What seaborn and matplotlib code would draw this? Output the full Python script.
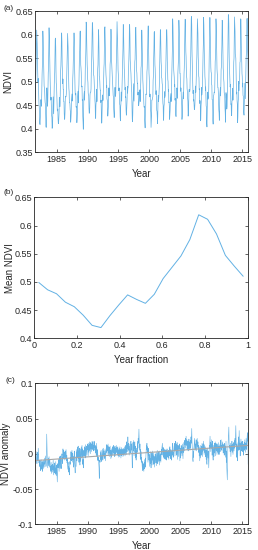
import numpy as np
import pandas as pd
import seaborn as sns
import matplotlib
matplotlib.use("Agg")
import matplotlib.pyplot as plt
from matplotlib.ticker import FuncFormatter

# ── Data ─────────────────────────────────────────────
# mean NDVI for each of the 24 half-month periods of the year (panel b)
year_fraction = [(k + 0.5) / 24 for k in range(24)]
mean_ndvi = [0.499, 0.486, 0.479, 0.464, 0.456, 0.441, 0.423, 0.419,
             0.440, 0.459, 0.477, 0.469, 0.462, 0.478, 0.506, 0.526,
             0.546, 0.575, 0.619, 0.611, 0.585, 0.547, 0.528, 0.510]

# NDVI anomaly (x1000), 24 half-month values per year
anom_1981 = [-2, -8, -12, -5, 3, -6, -9, -14, -4, 2, -7, -10]   # Jul-Dec only
anom_rows = {
    1982: [8, 2, -6, -13, -9, -18, -12, -10, -20, -24, -15, -8, -14, -22, -18, -11, -16, -25, -11, -17, -21, -9, -14, -19],
    1983: [-12, -6, -15, -9, -3, -11, -18, -16, -7, 28, 10, -5, -14, -20, -12, -6, -17, -10, -4, -13, -19, -8, -15, -22],
    1984: [-18, -25, -12, -20, -28, -16, -22, -15, -26, -19, -9, -21, -30, -17, -24, -13, -27, -20, -29, -18, -11, -23, -31, -16],
    1985: [-22, -33, -40, -26, -14, -20, -12, -8, -18, -25, -10, -4, -15, -21, -9, -3, -12, -19, -21, -7, 0, -11, -5, -14],
    1986: [7, -2, 5, -6, 2, -9, -3, 3, -5, 4, -8, -1, 6, -4, -10, -2, -13, -7, -16, -22, -12, -26, -18, -24],
    1987: [-20, -30, -23, -11, -15, -5, -9, 3, -6, 2, -10, 5, -3, -12, 1, -8, -4, -14, -19, -7, 4, -9, -16, -27],
    1988: [-27, -13, -4, -18, -8, 6, -10, 3, -5, 9, -2, 11, -7, 4, -12, 1, 8, -9, -16, -3, 7, -11, 2, 10],
    1989: [-6, 3, 12, -4, 7, -15, -8, -20, -11, 5, -3, 10, -1, 8, -6, 13, 2, -5, 8, 11, 4, -2, 9, 14],
    1990: [6, 12, -3, 8, 15, 2, 10, 17, 5, 13, 0, 9, 16, 7, 14, 3, 11, 18, 6, 15, 17, 8, 12, 4],
    1991: [14, 18, 9, 16, 5, 12, 1, 3, 10, -2, 7, 15, -4, 6, -8, 2, -10, -5, -8, -14, -20, -35, -18, -9],
    1992: [-12, -4, 3, -8, 5, -2, -11, -6, 2, 7, -5, -9, 1, 8, -3, 4, -7, 0, -5, 6, -1, -10, 3, 5],
    1993: [8, 2, 13, -1, 6, 12, 4, 14, 7, -3, 10, 1, 9, -4, 3, 11, -2, 5, -7, 0, 6, -5, 2, 8],
    1994: [3, 10, -2, 7, 12, 1, 9, 5, -4, 6, 11, 0, 8, -3, 5, 12, 2, 7, 9, -1, 4, 10, -3, 6],
    1995: [0, -5, 8, 2, -4, 10, 3, -2, 6, -6, 1, 9, -3, 4, 7, -1, 5, -4, 3, 8, -2, 6, 0, 10],
    1996: [4, -3, 9, 2, 12, -1, 6, 17, 8, 3, 13, 7, 24, 10, 15, 5, 11, -2, 3, 9, 14, 1, 7, 16],
    1997: [18, 12, 5, 14, -6, -20, -8, 10, 16, 4, 19, 9, -3, 13, 7, 17, 2, 11, -6, 5, -9, 3, -4, 8],
    1998: [2, 10, 18, 8, 22, 15, 26, 35, 20, 12, 5, 14, -4, 6, -8, 3, -12, -5, -9, -15, -20, -11, -24, -16],
    1999: [-22, -14, -25, -18, -8, -21, -12, -17, -6, -19, -3, 4, 12, 6, 15, 2, 10, -4, -12, 8, -2, 5, -9, -1],
    2000: [-10, -18, -5, 3, -14, -7, -20, -1, -12, 2, -16, -6, 4, -9, -3, -15, 1, -8, -14, -4, -19, -11, 0, -7],
    2001: [-5, -13, 2, -9, -17, -3, 5, -8, -14, 1, -6, -11, 3, -2, -16, -7, 4, -10, -9, 0, -12, -4, 6, -1],
    2002: [8, 11, 15, 4, -2, 9, -5, 3, 7, -7, 2, -3, 6, -8, 1, -4, 5, -6, -9, 0, 7, -2, 3, -5],
    2003: [2, -6, 5, -8, 1, 7, -3, 10, -1, 4, -7, 6, -4, 3, -9, 0, 5, -2, 15, 8, -5, 2, -3, 6],
    2004: [11, 4, 15, -3, 9, 18, 6, 7, 13, -2, 10, 16, 3, -8, 12, 5, -4, 9, 12, 7, 14, 1, -10, 8],
    2005: [3, -6, 8, 12, 1, 10, -3, 7, 14, 5, -7, 9, 2, 16, 11, 4, 19, 13, 14, 22, 8, 17, 25, 15],
    2006: [12, 20, 6, 16, 9, 18, 4, 14, 10, 21, 7, 13, 17, 5, 11, 19, 8, 24, 15, 28, 36, 18, 9, -2],
    2007: [-8, -11, 3, -5, 6, 12, 18, 22, 10, 5, 14, 8, 16, 20, 11, 4, 13, 22, 15, 9, 17, 6, 12, 2],
    2008: [10, -3, 6, -10, 4, 12, -6, 1, 8, -2, 11, 3, 15, 7, -4, 9, 14, 5, 18, 10, -1, 6, 13, 2],
    2009: [5, -4, 10, 2, -8, 6, -12, -15, -3, 8, 1, -6, 4, -10, -20, -5, 12, 7, 18, 25, 9, 16, 3, 11],
    2010: [20, 8, 14, -2, 6, 18, -5, -9, 3, 12, -4, 9, 15, 1, 10, 17, 6, -3, 15, 11, 4, 13, -1, 8],
    2011: [14, 2, 9, 16, 5, -1, 11, -1, 7, 13, 3, 19, 8, 15, 20, 6, 12, 4, 12, 17, 9, 14, 1, 10],
    2012: [6, 13, -2, 9, 15, 3, 11, -5, 8, 18, -12, 4, -20, -30, -37, -15, 7, 14, 24, 30, 38, 16, 8, 12],
    2013: [10, 3, 15, 7, -4, 12, 5, 10, 18, 2, 9, 14, -1, 6, 11, 16, 4, 13, 19, 8, 22, 12, 28, 40],
    2014: [20, 8, -5, 14, 3, 11, -10, 7, 16, 5, 24, 12, 33, 18, 6, 15, -3, 9, 15, 21, 10, 4, 17, 8],
    2015: [12, 3, 18, 7, 14, -2, 9, 10, 16, 5, 20, 11, 2, 15, 8, 22, 13, 6, 13, 24, 30, 18, 26, -15],
}

# ── Build series ─────────────────────────────────────
rows = [(1981, k, a) for k, a in zip(range(12, 24), anom_1981)]
for yr, vals in anom_rows.items():
    rows += [(yr, k, a) for k, a in enumerate(vals)]
df = pd.DataFrame(rows, columns=["year", "period", "anom"])
df["t"] = df["year"] + (df["period"] + 0.5) / 24
df["anomaly"] = df["anom"] / 1000
df["ndvi"] = np.array(mean_ndvi)[df["period"]] + df["anomaly"]
clim = pd.DataFrame({"frac": year_fraction, "ndvi": mean_ndvi})

# ── Style ────────────────────────────────────────────
sns.set_style("ticks")
plt.rcParams["font.family"] = ["Liberation Sans", "DejaVu Sans"]
plt.rcParams.update({
    "font.size": 6.5, "axes.linewidth": 0.6, "axes.edgecolor": "#262626",
    "xtick.direction": "in", "ytick.direction": "in",
    "xtick.top": True, "ytick.right": True,
    "xtick.major.size": 2.2, "ytick.major.size": 2.2,
    "xtick.major.width": 0.5, "ytick.major.width": 0.5,
    "xtick.major.pad": 1.8, "ytick.major.pad": 1.5,
    "xtick.color": "#262626", "ytick.color": "#262626",
    "text.color": "#262626", "axes.labelcolor": "#262626",
})
line_col = "#62b1e4"
gfmt = FuncFormatter(lambda v, p: f"{v:g}")

fig = plt.figure(figsize=(2.58, 5.5), dpi=100)
L, W, H = 35 / 258, 213.3 / 258, 141 / 550
ax_a = fig.add_axes([L, 1 - 152.3 / 550, W, H])
ax_b = fig.add_axes([34.3 / 258, 1 - 338.3 / 550, W, H])
ax_c = fig.add_axes([L, 1 - 524.3 / 550, W, H])

# (a) NDVI series
sns.lineplot(data=df, x="t", y="ndvi", ax=ax_a, color=line_col, lw=0.5, estimator=None)
ax_a.set_xlim(1981.5, 2016)
ax_a.set_ylim(0.35, 0.65)
ax_a.set_xticks(range(1985, 2016, 5))
ax_a.set_yticks(np.arange(0.35, 0.651, 0.05))
ax_a.set_xlabel("Year")
ax_a.set_ylabel("NDVI")

# (b) mean seasonal cycle
sns.lineplot(data=clim, x="frac", y="ndvi", ax=ax_b, color=line_col, lw=0.7, estimator=None)
ax_b.set_xlim(0, 1)
ax_b.set_ylim(0.4, 0.65)
ax_b.set_xticks(np.arange(0, 1.01, 0.2))
ax_b.set_yticks(np.arange(0.4, 0.651, 0.05))
ax_b.set_xlabel("Year fraction")
ax_b.set_ylabel("Mean NDVI")

# (c) anomaly + linear trend
sns.lineplot(data=df, x="t", y="anomaly", ax=ax_c, color=line_col, lw=0.4, estimator=None)
sns.regplot(data=df, x="t", y="anomaly", ax=ax_c, scatter=False, ci=None,
            truncate=True, line_kws={"color": "#a8a8a8", "lw": 0.8})
ax_c.set_xlim(1981.5, 2016)
ax_c.set_ylim(-0.1, 0.1)
ax_c.set_xticks(range(1985, 2016, 5))
ax_c.set_yticks(np.arange(-0.1, 0.101, 0.05))
ax_c.set_xlabel("Year")
ax_c.set_ylabel("NDVI anomaly")

for ax, ylx in [(ax_a, -0.127), (ax_b, -0.114), (ax_c, -0.136)]:
    ax.xaxis.set_major_formatter(gfmt)
    ax.yaxis.set_major_formatter(gfmt)
    ax.xaxis.set_label_coords(0.5, -0.118)
    ax.yaxis.set_label_coords(ylx, 0.5)
    ax.xaxis.label.set_va("top")
    ax.yaxis.label.set_va("center")
    ax.tick_params(labelsize=6.5)
    ax.xaxis.label.set_size(7)
    ax.yaxis.label.set_size(7)
    for s in ax.spines.values():
        s.set_visible(True)

fig.text(4 / 258, 1 - 8 / 550, "(a)", fontsize=6, va="center")
fig.text(4 / 258, 1 - 193 / 550, "(b)", fontsize=6, va="center")
fig.text(6 / 258, 1 - 381 / 550, "(c)", fontsize=6, va="center")

fig.savefig("out.png", dpi=100)
